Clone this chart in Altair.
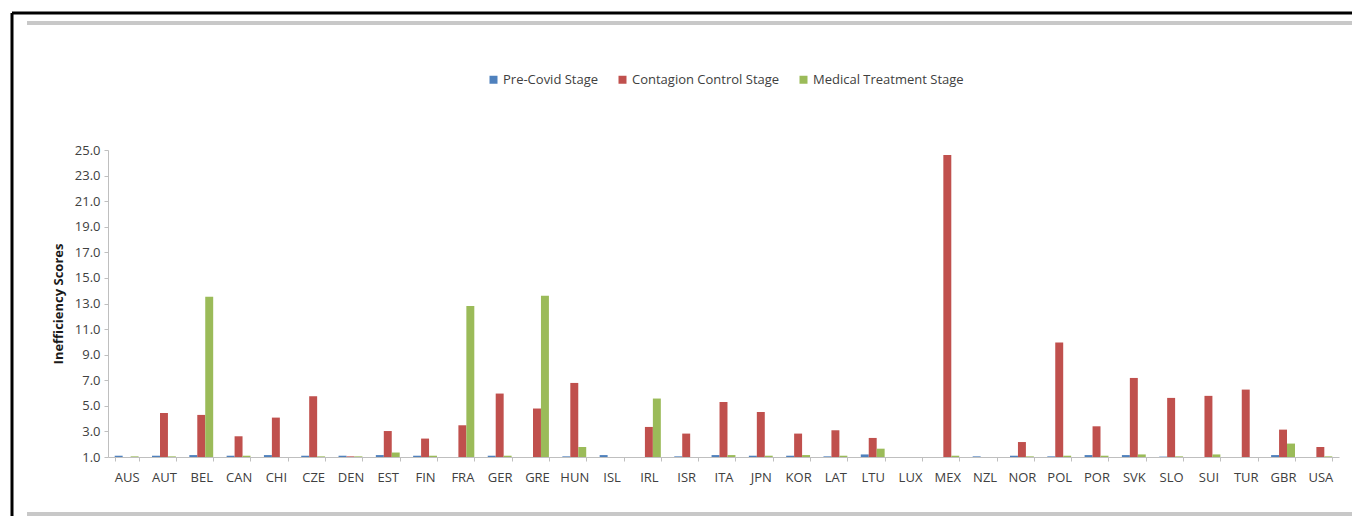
import altair as alt
import pandas as pd

countries = ["AUS", "AUT", "BEL", "CAN", "CHI", "CZE", "DEN", "EST", "FIN", "FRA",
             "GER", "GRE", "HUN", "ISL", "IRL", "ISR", "ITA", "JPN", "KOR", "LAT",
             "LTU", "LUX", "MEX", "NZL", "NOR", "POL", "POR", "SVK", "SLO", "SUI",
             "TUR", "GBR", "USA"]

pre_covid = [1.1, 1.1, 1.15, 1.1, 1.15, 1.1, 1.1, 1.15, 1.1, 1.0,
             1.1, 1.0, 1.05, 1.15, 1.0, 1.05, 1.15, 1.1, 1.1, 1.05,
             1.2, 1.0, 1.0, 1.05, 1.1, 1.05, 1.15, 1.15, 1.03, 1.0,
             1.0, 1.15, 1.0]

contagion = [1.0, 4.44, 4.29, 2.62, 4.08, 5.75, 1.05, 3.03, 2.44, 3.48,
             5.96, 4.79, 6.79, 1.0, 3.35, 2.83, 5.3, 4.52, 2.83, 3.09,
             2.49, 1.0, 24.6, 1.0, 2.17, 9.95, 3.4, 7.18, 5.62, 5.78,
             6.27, 3.14, 1.78]

medical = [1.05, 1.05, 13.52, 1.1, 1.0, 1.05, 1.05, 1.35, 1.1, 12.8,
           1.1, 13.6, 1.78, 1.0, 5.57, 1.0, 1.15, 1.1, 1.15, 1.1,
           1.65, 1.0, 1.1, 1.0, 1.05, 1.1, 1.1, 1.2, 1.05, 1.2,
           1.0, 2.05, 1.05]

stages = ["Pre-Covid Stage", "Contagion Control Stage", "Medical Treatment Stage"]
colors = ["#4F81BD", "#C0504D", "#9BBB59"]
y_ticks = [1, 3, 5, 7, 9, 11, 13, 15, 17, 19, 21, 23, 25]

rows = []
for series_name, vals in zip(stages, [pre_covid, contagion, medical]):
    for c, v in zip(countries, vals):
        rows.append({"Country": c, "Stage": series_name, "Score": v})
df = pd.DataFrame(rows)

FONT = "Open Sans"
TXT = "#404040"
AX = "#BFBFBF"

bars = alt.Chart(df).mark_bar().encode(
    x=alt.X("Country:N", sort=countries, title=None,
            scale=alt.Scale(paddingInner=0.36, paddingOuter=0.18),
            axis=alt.Axis(labelAngle=0, labelFontSize=13, labelColor=TXT, labelFont=FONT,
                          domainColor=AX, tickColor=AX, tickSize=4, tickBand="extent",
                          labelPadding=10)),
    xOffset=alt.XOffset("Stage:N", sort=stages, scale=alt.Scale(domain=stages)),
    y=alt.Y("Score:Q", title="Inefficiency Scores",
            scale=alt.Scale(domain=[1, 25], zero=False, nice=False),
            axis=alt.Axis(values=y_ticks, format=".1f", labelFontSize=13, labelColor=TXT,
                          labelFont=FONT, domainColor=AX, tickColor=AX, tickSize=4,
                          grid=False, titleFont=FONT, titleFontSize=13, titleColor="#1a1a1a",
                          titleFontWeight="bold", titlePadding=9, labelPadding=4)),
    y2=alt.datum(1),
    color=alt.Color("Stage:N", sort=stages,
                    scale=alt.Scale(domain=stages, range=colors),
                    legend=alt.Legend(title=None, orient="none", direction="horizontal",
                                      legendX=379, legendY=-77, symbolType="square",
                                      symbolSize=64, symbolStrokeWidth=0,
                                      labelFont=FONT, labelFontSize=13, labelColor=TXT,
                                      labelOffset=3, columnPadding=17)),
)

def rule(x, x2, y, y2, color, width):
    return alt.Chart(alt.Data(values=[{}])).mark_rule(
        color=color, strokeWidth=width, clip=False
    ).encode(x=alt.value(x), x2=alt.value(x2), y=alt.value(y), y2=alt.value(y2))

frame = [
    rule(-96, 1252, -137, -137, "#000000", 3),
    rule(-96, -96, -137, 374, "#000000", 3),
    rule(-81, 1249, -127, -127, "#C8C8C8", 4),
    rule(-81, 1249, 364, 364, "#C8C8C8", 4),
]

chart = alt.layer(bars, *frame).properties(
    width=1231, height=307,
    autosize=alt.AutoSizeParams(type="none"),
    padding={"left": 100, "top": 142, "right": 13, "bottom": 59},
).configure(background="#FFFFFF").configure_view(stroke=None)

chart.save("out.html", embed_options={"renderer": "svg", "actions": False})
